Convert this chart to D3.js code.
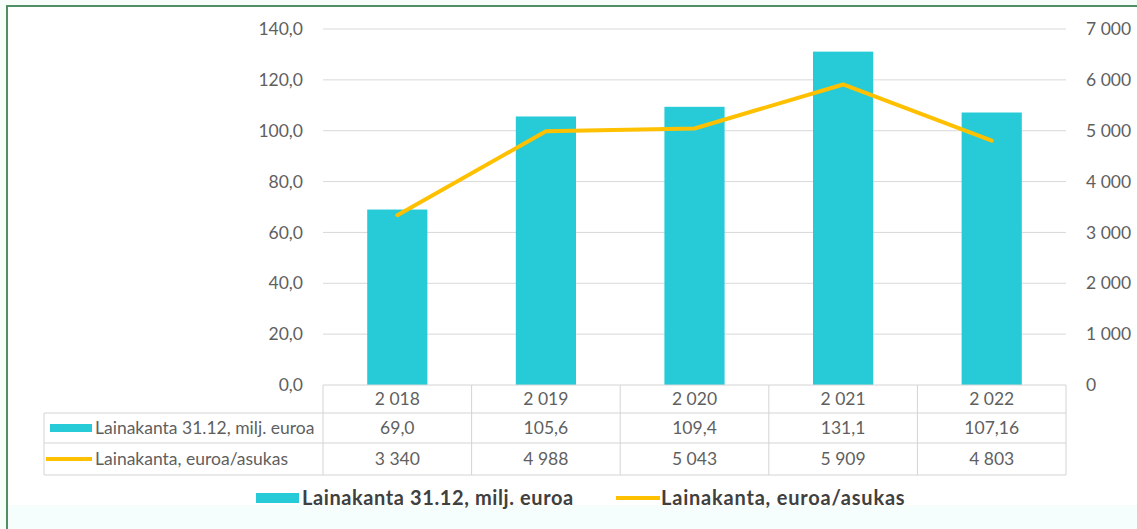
<!DOCTYPE html>
<html>
<head>
<meta charset="utf-8">
<script src="https://cdn.jsdelivr.net/npm/d3@7"></script>
<style>
  body { margin: 0; background: #fff; }
  svg { display: block; font-family: Lato, "Open Sans", sans-serif; }
</style>
</head>
<body>
<svg id="chart"></svg>
<script>
// data
const years = ["2 018", "2 019", "2 020", "2 021", "2 022"]
const loanStock = [69.0, 105.6, 109.4, 131.1, 107.16]
const loanStockLabels = ["69,0", "105,6", "109,4", "131,1", "107,16"]
const perResident = [3340, 4988, 5043, 5909, 4803]
const perResidentLabels = ["3 340", "4 988", "5 043", "5 909", "4 803"]
const seriesNames = ["Lainakanta 31.12, milj. euroa", "Lainakanta, euroa/asukas"]
const leftTicks = [0, 20, 40, 60, 80, 100, 120, 140]
const rightTicks = [0, 1000, 2000, 3000, 4000, 5000, 6000, 7000]

const W = 1137, H = 529
const barColor = "#27cbd7", lineColor = "#ffc000", textColor = "#5f5f5f"
const fs = 17.5
const plot = { left: 323, right: 1066, top: 29, bottom: 385 }
const rows = [385, 413, 443, 475]
const labelLeft = 44

const svg = d3.select("#chart").attr("width", W).attr("height", H)

// backdrop + frame
svg.append("rect").attr("width", W).attr("height", H).attr("fill", "#f7fdf9")
svg.append("rect").attr("x", 8).attr("y", 7).attr("width", W - 8).attr("height", 498).attr("fill", "#fff")
svg.append("rect").attr("x", 8).attr("y", 507).attr("width", W - 8).attr("height", H - 507).attr("fill", "#f6fefd")
svg.append("path").attr("d", `M7,${H} V6 H${W}`).attr("fill", "none")
   .attr("stroke", "#4f8f63").attr("stroke-width", 2)

const x = d3.scaleBand().domain(years).range([plot.left, plot.right])
const yL = d3.scaleLinear().domain([0, 140]).range([plot.bottom, plot.top])
const yR = d3.scaleLinear().domain([0, 7000]).range([plot.bottom, plot.top])

// gridlines
svg.append("g").selectAll("line").data(leftTicks.slice(1)).join("line")
   .attr("x1", plot.left).attr("x2", plot.right)
   .attr("y1", d => yL(d)).attr("y2", d => yL(d))
   .attr("stroke", "#d9d9d9").attr("stroke-width", 1)

const fmtL = d => d3.format(".1f")(d).replace(".", ",")
const fmtR = d => d3.format(",")(d).replace(/,/g, " ")

// left axis
const axL = svg.append("g").attr("transform", `translate(${plot.left},0)`)
   .call(d3.axisLeft(yL).tickValues(leftTicks).tickFormat(fmtL).tickSize(0).tickPadding(20))
axL.select(".domain").remove()
axL.selectAll("text").attr("fill", textColor).attr("font-size", fs).attr("font-family", "Lato, sans-serif")

// right axis
const axR = svg.append("g").attr("transform", `translate(${plot.right},0)`)
   .call(d3.axisRight(yR).tickValues(rightTicks).tickFormat(fmtR).tickSize(0).tickPadding(20))
axR.select(".domain").remove()
axR.selectAll("text").attr("fill", textColor).attr("font-size", fs).attr("font-family", "Lato, sans-serif")

// bars
const bw = x.bandwidth() * 0.405
svg.append("g").selectAll("rect").data(loanStock).join("rect")
   .attr("x", (d, i) => x(years[i]) + (x.bandwidth() - bw) / 2)
   .attr("width", bw)
   .attr("y", d => yL(d))
   .attr("height", d => yL(0) - yL(d))
   .attr("fill", barColor)

// line
const line = d3.line().x((d, i) => x(years[i]) + x.bandwidth() / 2).y(d => yR(d))
svg.append("path").datum(perResident).attr("d", line)
   .attr("fill", "none").attr("stroke", lineColor).attr("stroke-width", 4)
   .attr("stroke-linejoin", "round").attr("stroke-linecap", "round")

// data table
const tbl = svg.append("g").attr("stroke", "#d4d4d4").attr("stroke-width", 1)
tbl.append("line").attr("x1", plot.left).attr("x2", plot.right).attr("y1", rows[0]).attr("y2", rows[0])
rows.slice(1).forEach(r => {
  tbl.append("line").attr("x1", labelLeft).attr("x2", plot.right).attr("y1", r).attr("y2", r)
})
const colEdges = years.map(y => x(y)).concat([plot.right])
colEdges.forEach(cx => {
  tbl.append("line").attr("x1", cx).attr("x2", cx).attr("y1", rows[0]).attr("y2", rows[3])
})
tbl.append("line").attr("x1", labelLeft).attr("x2", labelLeft).attr("y1", rows[1]).attr("y2", rows[3])

const rowText = [years, loanStockLabels, perResidentLabels]
rowText.forEach((vals, r) => {
  svg.append("g").selectAll("text").data(vals).join("text")
     .attr("x", (d, i) => x(years[i]) + x.bandwidth() / 2)
     .attr("y", (rows[r] + rows[r + 1]) / 2)
     .attr("dy", "0.35em").attr("text-anchor", "middle")
     .attr("fill", textColor).attr("font-size", fs)
     .text(d => d)
})

// row labels with swatches
svg.append("rect").attr("x", 50).attr("y", (rows[1] + rows[2]) / 2 - 4).attr("width", 42).attr("height", 8).attr("fill", barColor)
svg.append("line").attr("x1", 46).attr("x2", 92).attr("y1", (rows[2] + rows[3]) / 2).attr("y2", (rows[2] + rows[3]) / 2)
   .attr("stroke", lineColor).attr("stroke-width", 4)
seriesNames.forEach((s, i) => {
  svg.append("text").attr("x", 95).attr("y", (rows[i + 1] + rows[i + 2]) / 2).attr("dy", "0.35em")
     .attr("fill", textColor).attr("font-size", fs).text(s)
})

// legend
const ly = 498
svg.append("rect").attr("x", 256).attr("y", ly - 5).attr("width", 43).attr("height", 10).attr("fill", barColor)
svg.append("text").attr("x", 302).attr("y", ly).attr("dy", "0.35em").attr("font-size", 20).attr("font-weight", "bold")
   .attr("letter-spacing", 0.6).attr("fill", "#404040").text(seriesNames[0])
svg.append("line").attr("x1", 616).attr("x2", 660).attr("y1", ly).attr("y2", ly).attr("stroke", lineColor).attr("stroke-width", 4)
svg.append("text").attr("x", 661).attr("y", ly).attr("dy", "0.35em").attr("font-size", 20).attr("font-weight", "bold")
   .attr("letter-spacing", 0.8).attr("fill", "#404040").text(seriesNames[1])
</script>
</body>
</html>
